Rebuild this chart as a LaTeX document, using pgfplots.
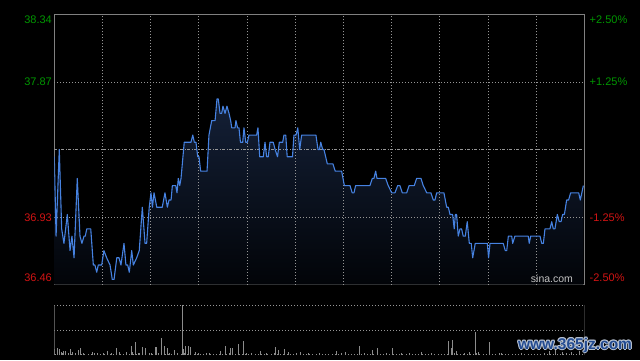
\documentclass[border=0pt]{standalone}
\usepackage{fontspec}
\setmainfont{Liberation Sans}
\usepackage{pgfplots}
\usepackage{pgfplotstable}
\pgfplotsset{compat=1.18}
\definecolor{axgray}{RGB}{128,128,128}
\definecolor{gridgray}{RGB}{150,150,150}
\definecolor{linecol}{RGB}{70,130,225}
\definecolor{fillTop}{RGB}{20,32,55}
\definecolor{fillBot}{RGB}{2,4,8}
\definecolor{upgreen}{RGB}{0,150,0}
\definecolor{downred}{RGB}{210,20,20}
\definecolor{volgray}{RGB}{140,140,140}
\definecolor{sinagray}{RGB}{195,195,195}
\definecolor{wmblue}{RGB}{35,75,145}
\definecolor{wmhalo}{RGB}{185,195,210}
\newcommand\lbl{\fontsize{11bp}{13bp}\selectfont}
\newcommand\wm{\fontsize{15.5bp}{17bp}\selectfont\bfseries www.365jz.com}
\tikzset{griddot/.style={gridgray, line width=0.8bp, dash pattern=on 1bp off 2bp}}

\pgfplotstableread{
m p
0 37.35
1.1 36.80
3.1 37.40
4.6 36.85
6.0 36.75
8.1 36.95
9.8 36.70
11.0 36.80
12.3 36.65
14.3 37.20
16.0 36.80
17.2 36.75
18.5 36.80
19.3 36.80
20.2 36.85
22.7 36.85
24.3 36.60
25.3 36.60
26.4 36.55
27.4 36.60
29.5 36.60
30.9 36.70
32.6 36.65
34.7 36.60
36.1 36.50
37.2 36.50
38.9 36.65
40.3 36.65
41.5 36.60
43.4 36.75
44.6 36.60
45.7 36.60
46.7 36.55
48.2 36.70
49.2 36.60
51.3 36.65
52.9 36.70
54.8 37.00
56.5 36.75
57.5 36.75
59.1 37.00
60.2 37.10
61.1 37.00
62.1 37.10
63.8 37.00
65.8 37.00
67.2 37.00
68.9 37.10
70.4 37.00
71.4 37.05
72.7 37.05
73.5 37.15
75.6 37.15
76.4 37.10
77.2 37.20
78.1 37.15
78.9 37.20
80.9 37.45
85.1 37.45
86.2 37.50
87.2 37.45
88.2 37.45
89.3 37.35
90.1 37.35
91.1 37.25
95.1 37.25
96.3 37.50
98.0 37.60
100.1 37.60
101.3 37.75
102.1 37.75
103.2 37.65
104.2 37.65
105.0 37.70
106.3 37.65
107.5 37.70
108.8 37.65
109.8 37.60
110.5 37.55
112.5 37.55
113.1 37.60
114.1 37.55
115.0 37.55
115.9 37.45
117.3 37.45
118.1 37.55
119.2 37.45
120.2 37.45
121.2 37.50
126.0 37.50
126.8 37.55
127.9 37.35
130.1 37.35
131.2 37.45
132.2 37.35
133.2 37.35
134.3 37.45
136.3 37.45
137.5 37.40
139.0 37.35
140.1 37.45
142.2 37.45
143.0 37.50
144.1 37.50
145.0 37.35
148.3 37.35
149.2 37.50
150.5 37.50
151.6 37.55
152.8 37.40
154.0 37.50
162.9 37.50
164.2 37.40
165.1 37.40
165.9 37.45
167.1 37.40
167.9 37.40
170.0 37.30
173.5 37.30
174.9 37.25
178.9 37.25
180.6 37.15
184.1 37.15
185.5 37.10
186.6 37.10
187.6 37.15
196.5 37.15
198.0 37.20
199.0 37.20
200.1 37.25
200.9 37.20
206.3 37.20
207.9 37.15
210.1 37.10
212.1 37.10
213.8 37.15
215.2 37.15
216.7 37.10
219.4 37.10
220.9 37.15
224.1 37.15
225.6 37.20
228.3 37.20
229.7 37.15
231.9 37.10
234.5 37.10
236.0 37.05
237.0 37.05
238.1 37.10
242.6 37.10
244.3 37.00
245.3 37.00
246.4 36.95
248.0 36.95
249.0 36.85
249.7 36.95
250.5 36.95
251.5 36.80
252.6 36.85
253.6 36.85
254.6 36.80
255.9 36.80
257.1 36.90
258.4 36.75
259.6 36.75
260.5 36.65
262.1 36.75
269.6 36.75
270.4 36.65
271.3 36.75
279.5 36.75
280.8 36.70
281.7 36.70
282.7 36.80
284.8 36.80
285.4 36.75
286.8 36.80
295.1 36.80
295.7 36.75
296.6 36.80
302.4 36.80
303.5 36.75
304.5 36.75
305.5 36.85
308.6 36.85
309.7 36.90
310.7 36.85
311.7 36.85
313.2 36.95
314.4 36.90
315.5 36.90
316.5 36.95
317.6 36.95
319.0 37.05
320.2 37.05
321.5 37.10
326.5 37.10
327.5 37.05
329.4 37.15
}\pricedata

\begin{document}
\begin{tikzpicture}[x=1bp,y=1bp]
\useasboundingbox (0,0) rectangle (640,360);
\fill[black] (0,0) rectangle (640,360);

\begin{axis}[at={(54.3bp,75.5bp)}, anchor=south west, scale only axis,
  width=530bp, height=270bp, xmin=0, xmax=330, ymin=36.465, ymax=38.335,
  xtick=\empty, ytick=\empty, axis line style={draw=axgray, line width=1bp},
  clip=true]
\addplot[draw=none, top color=fillTop, bottom color=fillBot] table[x=m,y=p]{\pricedata} \closedcycle;
\pgfplotsinvokeforeach{30,60,90,120,150,180,210,240,270,300}{
  \draw[griddot] (axis cs:#1,36.465) -- (axis cs:#1,38.335);
}
\draw[griddot] (axis cs:0,37.8675) -- (axis cs:330,37.8675);
\draw[griddot] (axis cs:0,36.9325) -- (axis cs:330,36.9325);
\draw[gridgray, line width=0.8bp, dash pattern=on 3bp off 1.5bp on 1bp off 1.5bp] (axis cs:0,37.40) -- (axis cs:330,37.40);
\addplot[color=linecol, line width=1.1bp, mark=none, line join=round] table[x=m,y=p]{\pricedata};
\node[anchor=east, text=sinagray, font=\fontsize{10.5bp}{12bp}\selectfont, inner sep=0pt] at (rel axis cs:0.979,0.022) {sina.com};
\end{axis}

\node[anchor=east, text=upgreen, font=\lbl, inner sep=0pt] at (52,340) {38.34};
\node[anchor=east, text=upgreen, font=\lbl, inner sep=0pt] at (52,278) {37.87};
\node[anchor=east, text=downred, font=\lbl, inner sep=0pt] at (52,142.7) {36.93};
\node[anchor=east, text=downred, font=\lbl, inner sep=0pt] at (52,82) {36.46};
\node[anchor=west, text=upgreen, font=\lbl, inner sep=0pt] at (589.5,340) {+2.50\%};
\node[anchor=west, text=upgreen, font=\lbl, inner sep=0pt] at (589.5,278) {+1.25\%};
\node[anchor=west, text=downred, font=\lbl, inner sep=0pt] at (589.5,142.7) {-1.25\%};
\node[anchor=west, text=downred, font=\lbl, inner sep=0pt] at (589.5,82) {-2.50\%};

\begin{axis}[at={(54.3bp,5bp)}, anchor=south west, scale only axis,
  width=530bp, height=50bp, xmin=0, xmax=330, ymin=0, ymax=50,
  hide axis, clip=true]
\draw[axgray, line width=1bp] (rel axis cs:0,0) -- (rel axis cs:0,1);
\draw[axgray, line width=1bp] (rel axis cs:1,0) -- (rel axis cs:1,1);
\draw[griddot] (rel axis cs:0,1) -- (rel axis cs:1,1);
\draw[griddot] (axis cs:0,25) -- (axis cs:330,25);
\addplot[ycomb, draw=volgray, line width=1bp, mark=none] coordinates {
(1,1.5)(3,1)(5,2)(7,1)(9,1.5)(11,1)(13,1)(15,2)(17,1.5)(19,1)(21,1.5)(23,1)(25,2)(27,1)(29,1.5)(31,1)(33,1)(35,1.5)(37,1)(39,2)(41,1)(43,1.5)(45,1)(47,1)(49,1.5)(51,1)(53,2)(55,1)(57,1.5)(59,1)(61,1)(63,1.5)(65,1)(67,2)(69,1)(71,1.5)(73,1)(75,1)(77,1.5)(79,1)(81,2)(83,1)(85,1.5)(87,1)(89,1)(91,1.5)(93,1)(95,2)(97,1)(99,1.5)(101,1)(103,1)(105,1.5)(107,1)(109,2)(111,1)(113,1.5)(115,1)(117,1)(119,1.5)(121,1)(123,2)(125,1)(127,1.5)(129,1)(131,1)(133,1.5)(135,1)(137,2)(139,1)(141,1.5)(143,1)(145,1)(147,1.5)(149,1)(151,2)(153,1)(155,1.5)(157,1)(159,1)(161,1.5)(163,1)(165,2)(167,1)(169,1.5)(171,1)(173,1)(175,1.5)(177,1)(179,2)(181,1)(183,1.5)(185,1)(187,1)(189,1.5)(191,1)(193,2)(195,1)(197,1.5)(199,1)(201,1)(203,1.5)(205,1)(207,2)(209,1)(211,1.5)(213,1)(215,1)(217,1.5)(219,1)(221,2)(223,1)(225,1.5)(227,1)(229,1)(231,1.5)(233,1)(235,2)(237,1)(239,1.5)(241,1)(243,1)(245,1.5)(247,1)(249,2)(251,1)(253,1.5)(255,1)(257,1)(259,1.5)(261,1)(263,2)(265,1)(267,1.5)(269,1)(271,1)(273,1.5)(275,1)(277,2)(279,1)(281,1.5)(283,1)(285,1)(287,1.5)(289,1)(291,2)(293,1)(295,1.5)(297,1)(299,1)(301,1.5)(303,1)(305,2)(307,1)(309,1.5)(311,1)(313,1)(315,1.5)(317,1)(319,2)(321,1)(323,1.5)(325,1)(327,1)(329,1.5)
};
\addplot[ycomb, draw=volgray, line width=1bp, mark=none] coordinates {
(0.4,5.7)(1.9,6.7)(3.1,6)(4.6,3.3)(5.6,4.3)(7.1,4.3)(8.7,2.3)(10.2,5.7)(11.5,3.3)(12.9,2.3)(14.9,5)(16.6,6.7)(18.1,1.7)(23.9,3.3)(26.8,2.3)(30.5,1.7)(33.0,4)(35.7,1.7)(38.9,6.7)(40.3,3.3)(45.1,2.7)(47.8,9)(48.8,3.3)(50.4,13)(52.3,1.7)(54.8,8.3)(56.9,6.7)(59.1,2.3)(60.6,2.3)(62.9,8.3)(63.8,8.3)(65.0,2.3)(66.9,17.3)(68.5,9)(70.4,7.3)(71.6,1.7)(74.7,5)(77.0,2.3)(79.9,60)(80.6,5.7)(81.8,9)(83.4,9)(84.9,8.3)(88.0,3.3)(89.7,1.7)(96.5,1.7)(103.2,4)(106.5,9)(109.6,6.7)(111.1,6.7)(114.6,11)(117.7,14)(119.8,2.3)(128.5,4)(132.2,1.7)(137.8,8.3)(139.5,5)(143.2,6)(145.7,3.3)(153,2.7)(158.1,1.7)(175.8,4)(181.4,2.7)(190.3,9)(198.0,5)(201.1,6.7)(210.4,6.7)(216.3,2.3)(228.7,2.7)(245.3,14)(247.0,6.7)(247.8,15)(250.5,4)(255.3,2.3)(258.8,3.3)(262.4,22.7)(264.0,2.7)(270.8,12.7)(278.5,2.3)(308.6,4)(312.3,5)(316.7,3)(322.3,3)(327.3,4)
};
\end{axis}

\foreach \dx/\dy in {-1/0,1/0,0/-1,0/1,-0.7/-0.7,0.7/0.7,-0.7/0.7,0.7/-0.7}{
  \node[text=wmhalo, inner sep=0pt] at (575+\dx,15+\dy) {\wm};
}
\node[text=wmblue, inner sep=0pt] at (575,15) {\wm};
\end{tikzpicture}
\end{document}
